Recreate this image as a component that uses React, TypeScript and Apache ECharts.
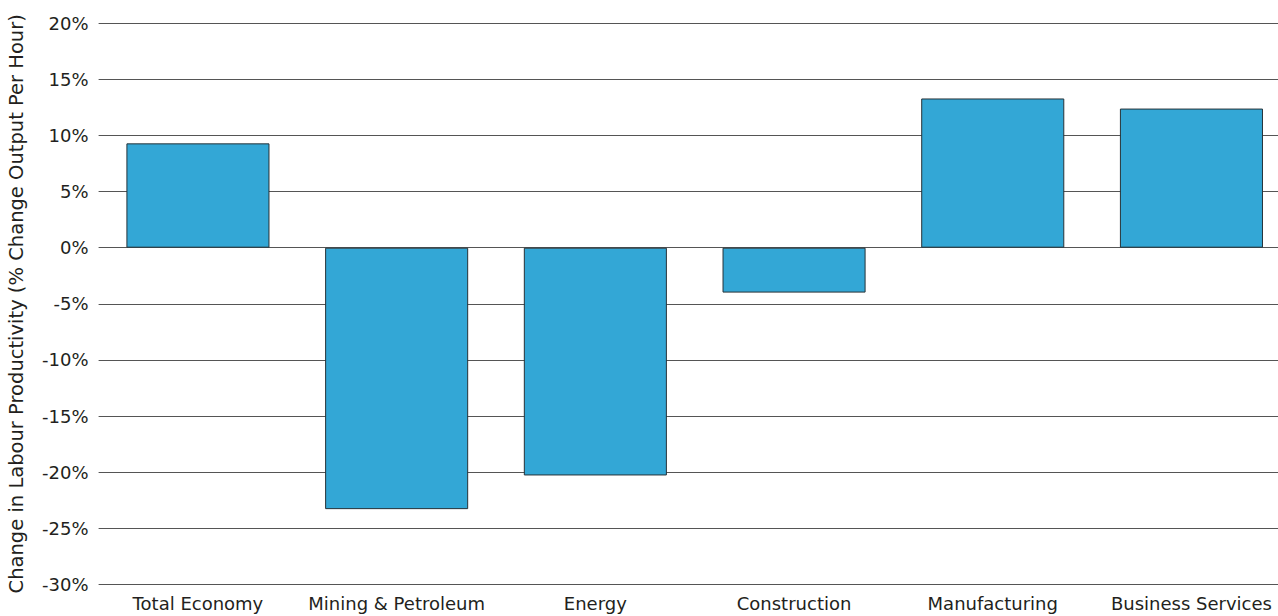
import React, { useEffect, useRef } from "react";
import * as echarts from "echarts";

const categories = [
  "Total Economy",
  "Mining & Petroleum",
  "Energy",
  "Construction",
  "Manufacturing",
  "Business Services",
];
const productivityChange = [9.3, -23.3, -20.3, -4.0, 13.3, 12.4];
const yTicks = { min: -30, max: 20, step: 5 };
const yTitle = "Change in Labour Productivity (% Change Output Per Hour)";

export default function App() {
  const ref = useRef<HTMLDivElement>(null);

  useEffect(() => {
    document.body.style.margin = "0";
    const chart = echarts.init(ref.current!, undefined, { renderer: "svg" });
    const font = "'DejaVu Sans', sans-serif";
    chart.setOption({
      animation: false,
      grid: {
        left: 98.6,
        right: -12.8,
        top: 23.3,
        bottom: 31.7,
        containLabel: false,
        outerBoundsMode: "none",
      },
      xAxis: {
        type: "category",
        data: categories,
        axisLine: { show: false },
        axisTick: { show: false },
        axisLabel: { color: "#231f20", fontSize: 18, fontFamily: font, margin: 10, interval: 0 },
      },
      yAxis: {
        type: "value",
        min: yTicks.min,
        max: yTicks.max,
        interval: yTicks.step,
        name: yTitle,
        nameLocation: "middle",
        nameGap: 72,
        nameTextStyle: { color: "#231f20", fontSize: 19.5, fontFamily: font },
        axisLine: { show: false },
        axisTick: { show: false },
        axisLabel: { color: "#231f20", fontSize: 18, fontFamily: font, formatter: "{value}%", margin: 10 },
        splitLine: { lineStyle: { color: "#555", width: 1.2 } },
      },
      series: [
        {
          type: "bar",
          data: productivityChange,
          barCategoryGap: "28%",
          itemStyle: { color: "#33a7d6", borderColor: "#263238", borderWidth: 1 },
        },
      ],
    });
    return () => chart.dispose();
  }, []);

  return (
    <div style={{ position: "absolute", left: 0, top: 0, width: 1278, height: 616, overflow: "hidden" }}>
      <div ref={ref} style={{ width: 1278, height: 616 }} />
    </div>
  );
}
